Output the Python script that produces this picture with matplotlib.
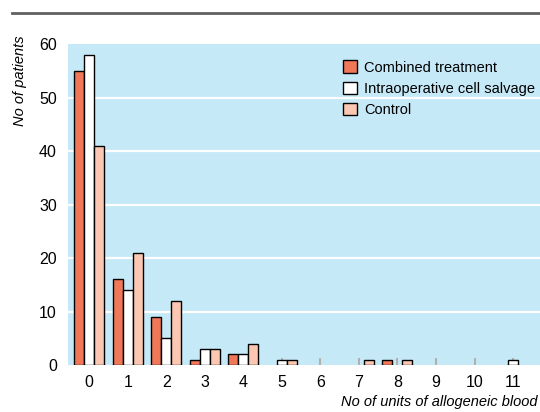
import numpy as np
import matplotlib
matplotlib.use("Agg")
from matplotlib import pyplot as plt
from matplotlib.lines import Line2D

# units of allogeneic blood
units = list(range(12))
combined = [55, 16, 9, 1, 2, 0, 0, 0, 1, 0, 0, 0]
salvage = [58, 14, 5, 3, 2, 1, 0, 0, 0, 0, 0, 1]
control = [41, 21, 12, 3, 4, 1, 0, 1, 1, 0, 0, 0]
series_names = ['Combined treatment', 'Intraoperative cell salvage', 'Control']
colors = ['#f07858', '#ffffff', '#fcc7b2']

plt.rcParams['font.family'] = ['Liberation Sans', 'DejaVu Sans']

fig = plt.figure(figsize=(5.4, 4.12), dpi=100)
ax = fig.add_axes([0.126, 0.114, 0.874, 0.779])
ax.set_facecolor('#c6e9f8')

w = 0.26
x = np.array(units)
for i, (vals, name, c) in enumerate(zip([combined, salvage, control], series_names, colors)):
    vals = np.array(vals)
    m = vals > 0
    ax.bar(x[m] + (i - 1) * w, vals[m], width=w, color=c, edgecolor='black', linewidth=1, zorder=3)
    ax.bar([np.nan], [np.nan], color=c, edgecolor='black', linewidth=1, label=name)

ax.set_xlim(-0.55, 11.7)
ax.set_ylim(0, 60)
ax.set_yticks(range(0, 61, 10))
ax.set_xticks(units)
ax.set_xticklabels([str(u) for u in units])
for y in range(10, 60, 10):
    ax.axhline(y, color='white', lw=1.6, zorder=1)
for s in ax.spines.values():
    s.set_visible(False)
ax.tick_params(axis='x', direction='in', length=5, width=1.5, color='#b0b0b0', labelsize=11.5, pad=7)
ax.tick_params(axis='y', length=0, labelsize=11.5, pad=8)
for t in ax.get_xticklines():
    t.set_zorder(4)

leg = ax.legend(loc='upper right', bbox_to_anchor=(1.017, 0.99), frameon=False, fontsize=10.5,
                handlelength=0.9, handleheight=0.9, handletextpad=0.5, labelspacing=0.5)

fig.text(0.037, 0.915, 'No of patients', rotation=90, ha='center', va='top', style='italic', fontsize=10.5)
fig.text(0.995, 0.024, 'No of units of allogeneic blood', ha='right', va='center', style='italic', fontsize=10.5)
fig.add_artist(Line2D([0.022, 1.0], [0.968, 0.968], color='#606060', lw=2))

fig.savefig('out.png', dpi=100)
